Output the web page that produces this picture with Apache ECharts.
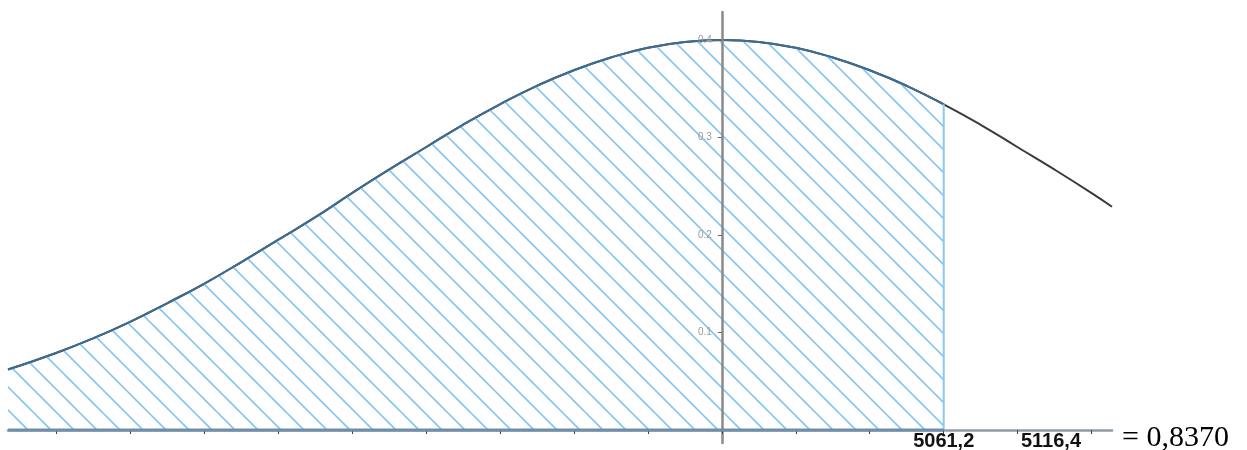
<!DOCTYPE html>
<html>
<head>
<meta charset="utf-8">
<script src="https://cdn.jsdelivr.net/npm/echarts@6/dist/echarts.min.js"></script>
<style>
  html, body { margin: 0; padding: 0; background: #fff; }
  #chart { width: 1247px; height: 450px; }
</style>
</head>
<body>
<div id="chart"></div>
<script>
// curve (x in tick units of 0.2, y density)
var zValues = [-1.93, -1.8, -1.7, -1.6, -1.5, -1.4, -1.3, -1.2, -1.1, -1.0,
  -0.9, -0.8, -0.7, -0.6, -0.5, -0.4, -0.3, -0.2, -0.1, 0,
  0.1, 0.2, 0.3, 0.4, 0.5, 0.6, 0.7, 0.8, 0.9, 1.0, 1.055]
var densityValues = [0.062, 0.079, 0.094, 0.111, 0.130, 0.150, 0.172, 0.195, 0.218, 0.243,
  0.267, 0.290, 0.313, 0.334, 0.353, 0.369, 0.382, 0.392, 0.398, 0.400,
  0.398, 0.392, 0.382, 0.369, 0.353, 0.334, 0.313, 0.290, 0.267, 0.243, 0.229]
var hatchEnd = 0.6
var xMin = -1.93
var xMax = 1.055
var xTickValues = [-1.8, -1.6, -1.4, -1.2, -1.0, -0.8, -0.6, -0.4, -0.2, 0, 0.2, 0.4, 0.6, 0.8, 1.0]
var xLabelValues = [0.6, 0.89]
var xLabelTexts = ['5061,2', '5116,4']
var yTickValues = [0.1, 0.2, 0.3, 0.4]
var resultText = '= 0,8370'

// hatch pattern tile
function makeHatch() {
  var s = 23
  var c = document.createElement('canvas')
  c.width = s
  c.height = s
  var ctx = c.getContext('2d')
  ctx.strokeStyle = '#86c5f2'
  ctx.lineWidth = 1.6
  ;[-34, -11, 12, 35].forEach(function(k) {
    ctx.beginPath()
    ctx.moveTo(k - 5, -5)
    ctx.lineTo(k + 30, 30)
    ctx.stroke()
  })
  return c
}

var curve = zValues.map(function(z, i) { return [z, densityValues[i]] })
var hatched = curve.filter(function(p) { return p[0] <= hatchEnd + 1e-9 })
var lastHatch = hatched[hatched.length - 1]

var gridLeft = 8
var gridRight = 135
var plotWidth = 1247 - gridLeft - gridRight

var chart = echarts.init(document.getElementById('chart'))
chart.setOption({
  animation: false,
  grid: {
    left: gridLeft,
    right: gridRight,
    top: 12,
    bottom: 7,
    outerBoundsMode: 'none'
  },
  xAxis: {
    type: 'value',
    min: xMin,
    max: xMax,
    z: 5,
    splitLine: { show: false },
    axisLine: { show: true, onZero: true, lineStyle: { color: '#8f9ba6', width: 2.5 } },
    axisTick: {
      show: true,
      customValues: xTickValues,
      length: 4,
      lineStyle: { color: '#444', width: 1 }
    },
    axisLabel: {
      customValues: xLabelValues,
      margin: -12,
      color: '#111',
      fontWeight: 'bold',
      fontSize: 20,
      fontFamily: 'Liberation Sans',
      formatter: function(v) {
        var i = xLabelValues.indexOf(v)
        return i >= 0 ? xLabelTexts[i] : ''
      }
    }
  },
  yAxis: {
    type: 'value',
    min: -0.0133,
    max: 0.4287,
    z: 5,
    position: 'left',
    // place the axis at x = 0 by offset so its labels are kept
    offset: -plotWidth * (0 - xMin) / (xMax - xMin),
    splitLine: { show: false },
    axisLine: { show: true, onZero: false, lineStyle: { color: '#8a8a8a', width: 2.5 } },
    axisTick: {
      show: true,
      customValues: yTickValues,
      length: 4,
      lineStyle: { color: '#666', width: 1 }
    },
    axisLabel: {
      show: true,
      customValues: yTickValues,
      margin: 10,
      color: '#9a9a9a',
      fontSize: 10
    }
  },
  graphic: [{
    type: 'text',
    left: 1122,
    top: 423,
    style: {
      text: resultText,
      font: '30px "Liberation Serif"',
      fill: '#000'
    }
  }],
  series: [
    {
      name: 'curve',
      type: 'line',
      data: curve,
      smooth: true,
      symbol: 'none',
      z: 3,
      lineStyle: { color: '#3a3a3a', width: 2 }
    },
    {
      name: 'hatched',
      type: 'line',
      data: hatched,
      smooth: true,
      symbol: 'none',
      z: 4,
      lineStyle: { color: '#3d6d92', width: 2 },
      areaStyle: { color: { image: makeHatch(), repeat: 'repeat' }, opacity: 1 }
    },
    {
      name: 'edge',
      type: 'line',
      data: [[lastHatch[0], 0], [lastHatch[0], lastHatch[1]]],
      symbol: 'none',
      z: 4,
      lineStyle: { color: '#8cc8f2', width: 2 }
    },
    {
      name: 'base',
      type: 'line',
      data: [[zValues[0], 0], [lastHatch[0], 0]],
      symbol: 'none',
      z: 6,
      lineStyle: { color: '#6f8ea9', width: 3 }
    }
  ]
})
</script>
</body>
</html>
